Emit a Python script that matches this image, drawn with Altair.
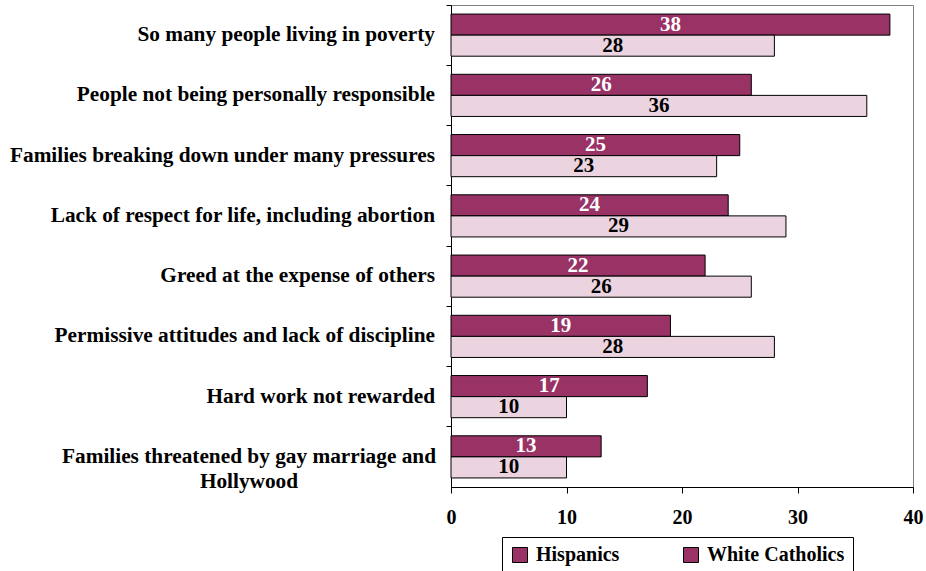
import altair as alt
import pandas as pd

categories = [
    "So many people living in poverty",
    "People not being personally responsible",
    "Families breaking down under many pressures",
    "Lack of respect for life, including abortion",
    "Greed at the expense of others\u00a0",
    "Permissive attitudes and lack of discipline",
    "Hard work not rewarded",
    "Families threatened by gay marriage and\nHollywood",
]
series = ["Hispanics", "White Catholics"]
hispanics = [38, 26, 25, 24, 22, 19, 17, 13]
white_catholics = [28, 36, 23, 29, 26, 28, 10, 10]
x_ticks = [0, 10, 20, 30, 40]

PLUM = "#993366"
PINK = "#EBD4E0"
SERIF = "'Liberation Serif', 'Times New Roman', 'DejaVu Serif', serif"

rows = []
for c, h, w in zip(categories, hispanics, white_catholics):
    rows.append({"cat": c, "series": series[0], "value": h, "mid": h / 2})
    rows.append({"cat": c, "series": series[1], "value": w, "mid": w / 2})
df = pd.DataFrame(rows)
lab_df = pd.DataFrame({"cat": categories, "multi": ["\n" in c for c in categories]})

y_enc = alt.Y("cat:N", sort=categories, title=None,
              scale=alt.Scale(paddingInner=0, paddingOuter=0),
              axis=alt.Axis(labels=False, title=None, bandPosition=0, tickSize=5,
                            domainColor="black", tickColor="black", grid=False))
yoff_enc = alt.YOffset("series:N", sort=series,
                       scale=alt.Scale(paddingInner=0, paddingOuter=0.43))
x_enc = alt.X("value:Q", title=None, scale=alt.Scale(domain=[0, 40]),
              axis=alt.Axis(values=x_ticks, grid=False, tickSize=6, labelPadding=14,
                            labelFont=SERIF, labelFontSize=20, labelFontWeight="bold",
                            labelColor="black", domainColor="black", tickColor="black",
                            labelFlush=False, format="d"))

bars = alt.Chart(df).mark_bar(stroke="black", strokeWidth=1).encode(
    y=y_enc,
    yOffset=yoff_enc,
    x=x_enc,
    fill=alt.Fill("series:N", scale=alt.Scale(domain=series, range=[PLUM, PINK]), legend=None),
)

legend_layer = alt.Chart(df).mark_point(shape="square", filled=True, opacity=0).encode(
    y=alt.Y("cat:N", sort=categories),
    x=alt.X("value:Q"),
    color=alt.Color("series:N", scale=alt.Scale(domain=series, range=[PLUM, PLUM]),
                    legend=alt.Legend(title=None, orient="none", legendX=51, legendY=532,
                                      direction="horizontal", columns=2,
                                      symbolType="square", symbolSize=225,
                                      symbolStrokeColor="black", symbolStrokeWidth=1,
                                      symbolOpacity=1,
                                      labelFont=SERIF, labelFontSize=20,
                                      labelFontWeight="bold", labelColor="black",
                                      labelOffset=6, columnPadding=61,
                                      strokeColor="black", fillColor="white",
                                      padding=8)),
)

val_h = alt.Chart(df).transform_filter(alt.datum.series == series[0]).mark_text(
    font=SERIF, fontSize=21, fontWeight="bold", color="white", baseline="middle"
).encode(y=alt.Y("cat:N", sort=categories), yOffset=yoff_enc, x=alt.X("mid:Q"), text="value:Q")

val_w = alt.Chart(df).transform_filter(alt.datum.series == series[1]).mark_text(
    font=SERIF, fontSize=21, fontWeight="bold", color="black", baseline="middle"
).encode(y=alt.Y("cat:N", sort=categories), yOffset=yoff_enc, x=alt.X("mid:Q"), text="value:Q")

lab_single = alt.Chart(lab_df).transform_filter("!datum.multi").mark_text(
    align="right", baseline="middle", font=SERIF, fontSize=21.3, fontWeight="bold", color="black"
).encode(y=alt.Y("cat:N", sort=categories), x=alt.value(-16), text="cat:N")

lab_multi = alt.Chart(lab_df).transform_filter("datum.multi").mark_text(
    align="center", baseline="middle", font=SERIF, fontSize=21.3, fontWeight="bold",
    color="black", lineBreak="\n", lineHeight=25
).encode(y=alt.Y("cat:N", sort=categories), x=alt.value(-202), text="cat:N")

chart = alt.layer(legend_layer, bars, val_h, val_w, lab_single, lab_multi).properties(
    width=462, height=482,
    autosize=alt.AutoSizeParams(type="none"),
    padding={"left": 451, "top": 5, "right": 13, "bottom": 84},
    background="white",
).configure_view(stroke="#808080", strokeWidth=1)

chart.save("out.html", embed_options={"renderer": "svg", "actions": False})
